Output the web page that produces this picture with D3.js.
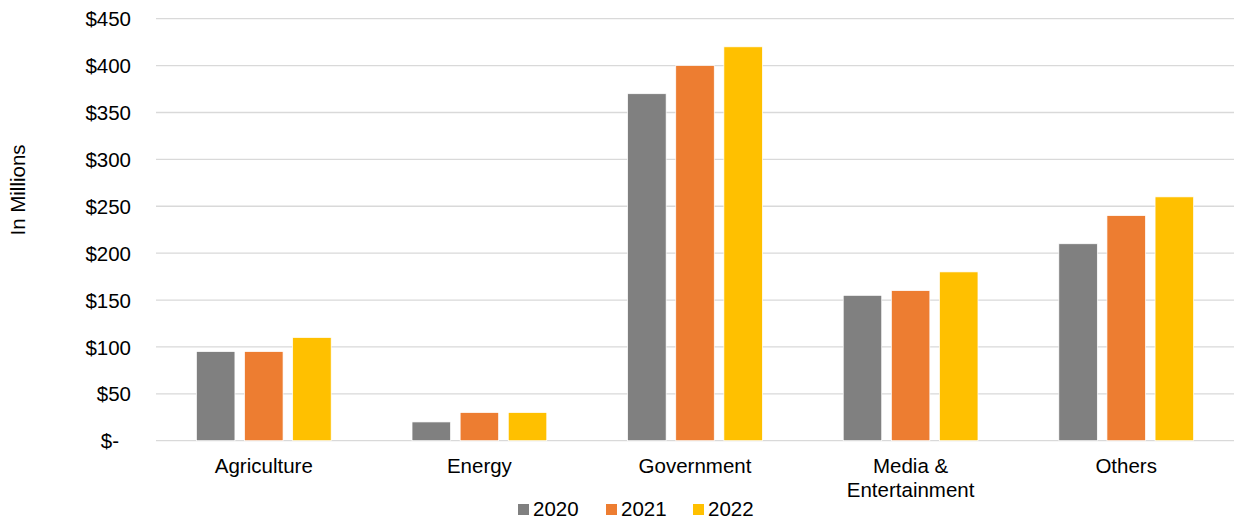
<!DOCTYPE html>
<html><head><meta charset="utf-8">
<script src="https://cdn.jsdelivr.net/npm/d3@7"></script>
<style>body{margin:0;background:#fff}text{font-family:"Liberation Sans",Arial,sans-serif;fill:#000}</style>
</head><body><svg id="c" width="1236" height="523"></svg>
<script>
const categories = ["Agriculture","Energy","Government","Media & Entertainment","Others"];
const categoryLines = [["Agriculture"],["Energy"],["Government"],["Media &","Entertainment"],["Others"]];
const seriesNames = ["2020","2021","2022"];
const values2020 = [95,20,370,155,210];
const values2021 = [95,30,400,160,240];
const values2022 = [110,30,420,180,260];
const yTicks = [0,50,100,150,200,250,300,350,400,450];
const colors = ["#808080","#ED7D31","#FFC000"];
const series = [values2020, values2021, values2022];

const FS = 20.5;
const svg = d3.select("#c");
const plotL = 156, plotR = 1234, plotT = 18.7, plotB = 440.7;
const y = d3.scaleLinear().domain([0,450]).range([plotB, plotT]);
const x = d3.scaleBand().domain(categories).range([plotL, plotR]).paddingInner(0.375).paddingOuter(0.1875);
const xs = d3.scaleBand().domain(seriesNames).range([0, x.bandwidth()]).paddingInner(0.2);

// gridlines
svg.append("g").selectAll("line").data(yTicks).join("line")
  .attr("x1", plotL).attr("x2", plotR)
  .attr("y1", d => y(d)).attr("y2", d => y(d))
  .attr("stroke", "#d9d9d9").attr("stroke-width", 1.3);

// y labels
const yAxis = d3.axisLeft(y).tickValues(yTicks).tickSize(0).tickPadding(0)
  .tickFormat(d => d === 0 ? "$-" : "$" + d);
const ga = svg.append("g").attr("transform", `translate(${plotL-25},0)`).call(yAxis);
ga.select(".domain").remove();
ga.selectAll("text").attr("font-size", FS).attr("font-family", '"Liberation Sans",Arial,sans-serif').attr("fill","#000").attr("dy","0.35em");
ga.selectAll(".tick").filter(d => d === 0).select("text").attr("dx", -12);

// bars
series.forEach((vals, si) => {
  svg.append("g").selectAll("rect").data(vals).join("rect")
    .attr("x", (d,i) => x(categories[i]) + xs(seriesNames[si]))
    .attr("width", xs.bandwidth())
    .attr("y", d => y(d))
    .attr("height", d => y(0) - y(d))
    .attr("fill", colors[si])
    .attr("stroke", "#fff").attr("stroke-width", 0.7);
});

// x labels
categories.forEach((c, i) => {
  const t = svg.append("text").attr("text-anchor","middle").attr("font-size",FS)
    .attr("x", x(c) + x.bandwidth()/2).attr("y", 473);
  categoryLines[i].forEach((ln, j) => t.append("tspan").attr("x", x(c) + x.bandwidth()/2).attr("dy", j ? 24 : 0).text(ln));
});

// y title
svg.append("text").attr("transform","translate(25,190) rotate(-90)").attr("text-anchor","middle")
  .attr("font-size",FS).text("In Millions");

// legend
const legX = [518, 606, 693];
seriesNames.forEach((s, i) => {
  svg.append("rect").attr("x", legX[i]).attr("y", 504).attr("width", 11).attr("height", 11).attr("fill", colors[i]);
  svg.append("text").attr("x", legX[i] + 15).attr("y", 516).attr("font-size", FS).text(s);
});
</script></body></html>
